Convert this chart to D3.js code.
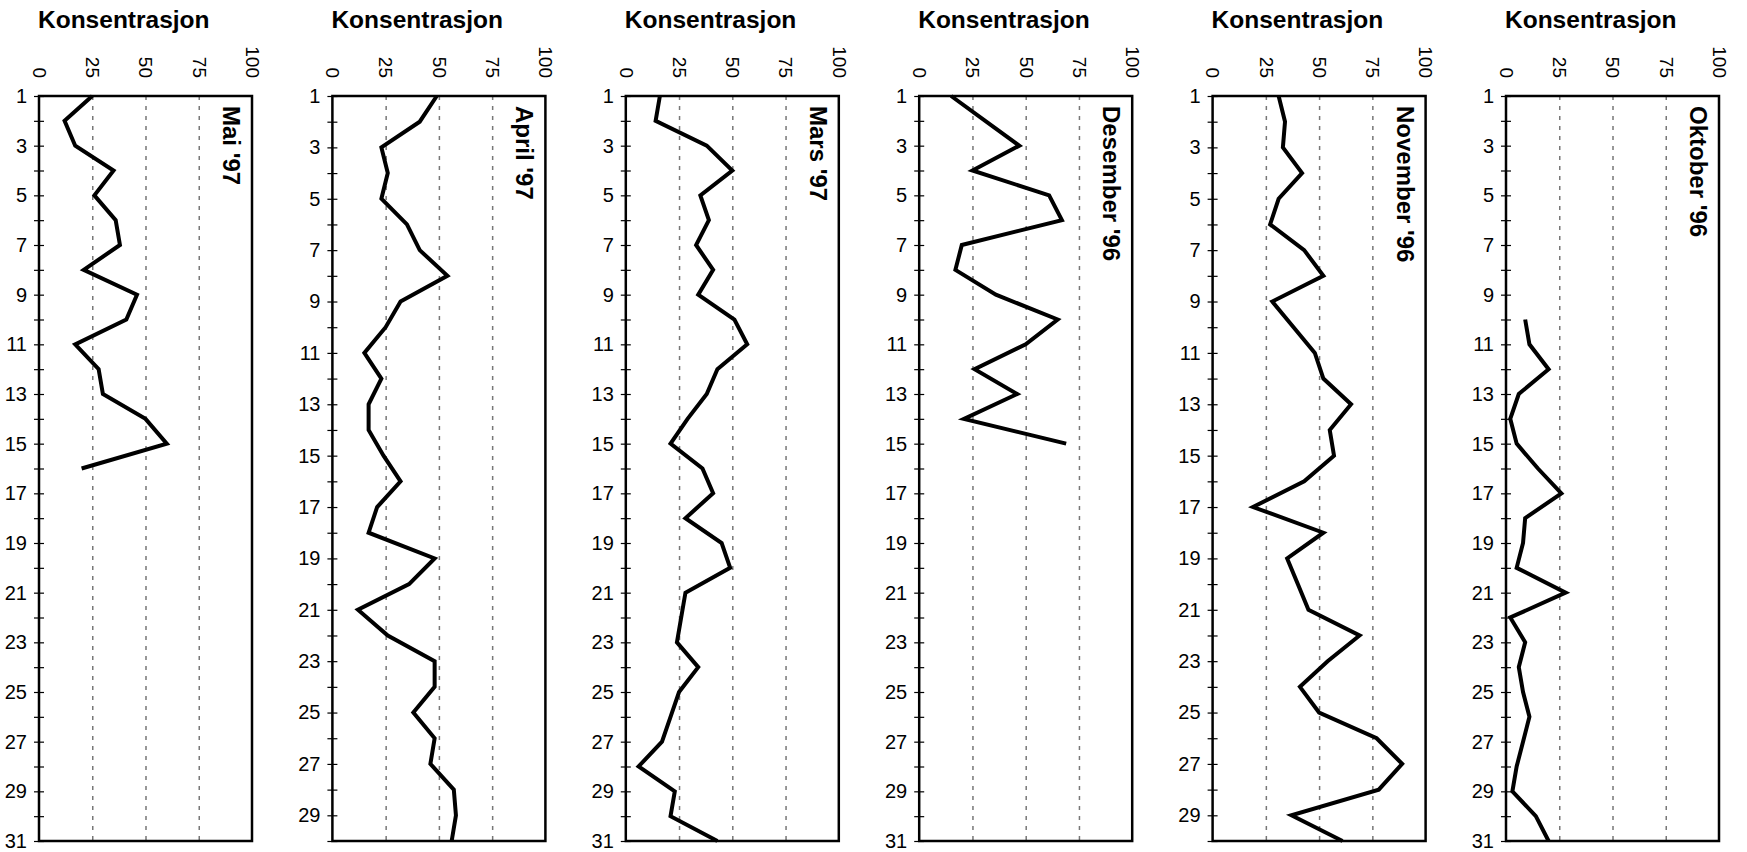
<!DOCTYPE html>
<html>
<head>
<meta charset="utf-8">
<script src="https://cdn.jsdelivr.net/npm/d3@7"></script>
<style>
  body { margin: 0; background: #fff; }
  svg { font-family: "Liberation Sans", Arial, sans-serif; }
  .title { font-size: 24.5px; font-weight: bold; }
  .month { font-size: 24px; font-weight: bold; }
  .x-axis text { font-size: 19px; fill: #000; }
  .y-axis text { font-size: 20px; fill: #000; }
  .y-axis line { stroke: #000; stroke-width: 1.2; }
  .grid line { stroke: #777; stroke-width: 1.5; stroke-dasharray: 4, 6; }
  .grid path, .x-axis path, .x-axis line, .y-axis path { display: none; }
</style>
</head>
<body>
<script>
const MONTHS = ["Mai '97", "April '97", "Mars '97", "Desember '96", "November '96", "Oktober '96"]
const DAYS_IN_MONTH = [31, 30, 31, 31, 30, 31]
const X_TICKS = [0, 25, 50, 75, 100]
const GRID_TICKS = [25, 50, 75]

// concentration per day, null = no measurement
const MAI_97 = [25, 12, 17, 35, 26, 36, 38, 21, 46, 41, 17, 28, 30, 50, 60, 20,
  null, null, null, null, null, null, null, null, null, null, null, null, null, null, null]
const APRIL_97 = [49, 41, 23, 26, 23, 35, 41, 54, 32, 25, 15, 23, 17, 17, 24, 32, 21, 17, 48, 36,
  12, 26, 48, 48, 38, 48, 46, 57, 58, 56]
const MARS_97 = [16, 14, 38, 50, 35, 39, 33, 41, 34, 51, 57, 43, 38, 29, 21, 36, 41, 28, 45, 49,
  28, 26, 24, 34, 25, 21, 17, 6, 23, 21, 43]
const DESEMBER_96 = [15, 31, 47, 25, 61, 67, 20, 17, 36, 65, 50, 26, 46, 21, 69,
  null, null, null, null, null, null, null, null, null, null, null, null, null, null, null, null]
const NOVEMBER_96 = [31, 34, 33, 42, 31, 27, 43, 52, 28, 38, 48, 52, 65, 55, 57, 43, 19, 52, 35, 40,
  45, 69, 54, 41, 50, 77, 89, 78, 37, 61]
const OKTOBER_96 = [null, null, null, null, null, null, null, null, null, 9, 11, 20, 6, 2, 5, 15,
  26, 9, 8, 5, 28, 2, 9, 6, 8, 11, 8, 5, 3, 14, 20]

const SERIES = [MAI_97, APRIL_97, MARS_97, DESEMBER_96, NOVEMBER_96, OKTOBER_96]

const WIDTH = 1747
const HEIGHT = 852
const PLOT_TOP = 96
const PLOT_H = 745
const PLOT_W = 213

const svg = d3.select('body').append('svg')
  .attr('width', WIDTH)
  .attr('height', HEIGHT)

const panelX = d3.scalePoint()
  .domain(MONTHS)
  .range([39, 1506])

MONTHS.forEach((month, i) => {
  const days = DAYS_IN_MONTH[i]
  const values = SERIES[i].map((v, j) => ({ day: j + 1, value: v }))

  const chart = svg.append('g')
    .attr('transform', `translate(${panelX(month)}, ${PLOT_TOP})`)

  const x = d3.scaleLinear().domain([0, 100]).range([0, PLOT_W])
  const y = d3.scaleLinear().domain([1, days]).range([0, PLOT_H])

  // title
  chart.append('text')
    .attr('class', 'title')
    .attr('x', -1)
    .attr('y', -68)
    .text('Konsentrasjon')

  // grid lines
  chart.append('g')
    .attr('class', 'grid')
    .call(d3.axisBottom(x)
      .tickValues(GRID_TICKS)
      .tickSize(PLOT_H)
      .tickFormat(''))

  // top axis, labels rotated
  chart.append('g')
    .attr('class', 'x-axis')
    .call(d3.axisTop(x).tickValues(X_TICKS).tickSize(0))
    .selectAll('text')
    .attr('x', 0)
    .attr('y', 0)
    .attr('dy', '0.35em')
    .attr('text-anchor', 'end')
    .attr('transform', 'translate(0, -18) rotate(90)')

  // left axis, every day ticked, odd days labelled
  chart.append('g')
    .attr('class', 'y-axis')
    .call(d3.axisLeft(y)
      .tickValues(d3.range(1, days + 1))
      .tickSize(5)
      .tickPadding(7)
      .tickFormat(d => d % 2 ? d : ''))
    .selectAll('.tick line')
    .attr('x1', -5)
    .attr('x2', 5)

  // data line
  const line = d3.line()
    .defined(d => d.value != null)
    .x(d => x(d.value))
    .y(d => y(d.day))

  chart.append('path')
    .datum(values)
    .attr('d', line)
    .style('fill', 'none')
    .style('stroke', '#000')
    .style('stroke-width', 4)
    .style('stroke-linejoin', 'miter')

  // frame
  chart.append('rect')
    .attr('width', PLOT_W)
    .attr('height', PLOT_H)
    .style('fill', 'none')
    .style('stroke', '#000')
    .style('stroke-width', 2.5)

  // month label
  chart.append('text')
    .attr('class', 'month')
    .attr('transform', `translate(${PLOT_W - 29}, 10) rotate(90)`)
    .text(month)
})
</script>
</body>
</html>
